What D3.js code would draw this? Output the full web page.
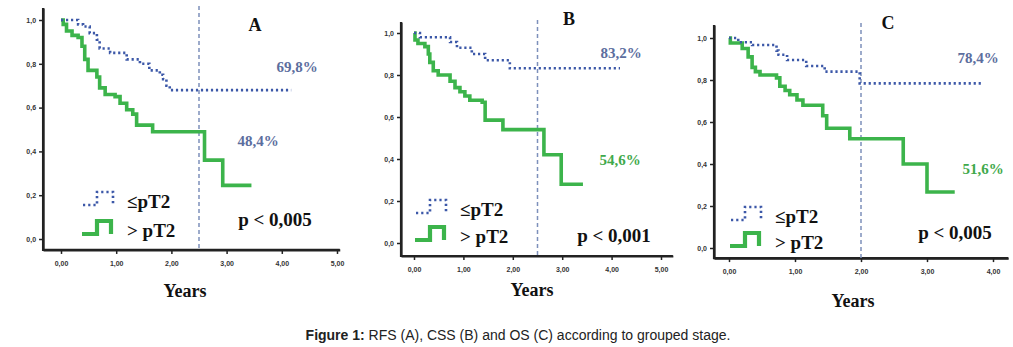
<!DOCTYPE html>
<html>
<head>
<meta charset="utf-8">
<script src="https://cdn.jsdelivr.net/npm/d3@7"></script>
<style>
    body { margin: 0; background: #fff; }
    svg { display: block; }
</style>
</head>
<body>
<svg id="figure" width="1013" height="347"></svg>
<script>
// Kaplan-Meier steps: [years, survival from that time on]
const rfs_low = [[0, 1], [0.31, 0.98], [0.4, 0.97], [0.52, 0.94], [0.65, 0.91], [0.7, 0.87], [0.89, 0.85],
    [1.19, 0.82], [1.43, 0.80], [1.6, 0.77], [1.79, 0.75], [1.85, 0.73], [1.91, 0.70], [1.97, 0.68], [4.17, 0.68]];
const rfs_high = [[0, 1], [0.04, 0.98], [0.1, 0.95], [0.2, 0.93], [0.31, 0.92], [0.38, 0.88], [0.43, 0.82],
    [0.49, 0.77], [0.65, 0.74], [0.7, 0.69], [0.8, 0.66], [0.98, 0.65], [1.07, 0.62], [1.19, 0.59], [1.3, 0.57],
    [1.37, 0.52], [1.66, 0.49], [2.6, 0.36], [2.93, 0.245], [3.45, 0.245]];

const css_low = [[0, 1], [0.12, 0.98], [0.73, 0.957], [0.87, 0.93], [1.17, 0.90], [1.44, 0.87], [1.94, 0.832], [4.17, 0.832]];
const css_high = [[0, 1], [0.02, 0.967], [0.08, 0.95], [0.22, 0.935], [0.29, 0.90], [0.32, 0.86], [0.39, 0.82],
    [0.49, 0.80], [0.73, 0.77], [0.83, 0.74], [0.93, 0.72], [1.03, 0.70], [1.13, 0.68], [1.38, 0.67], [1.44, 0.585],
    [1.8, 0.54], [2.63, 0.42], [2.98, 0.28], [3.42, 0.28]];

const os_low = [[0, 1], [0.14, 0.98], [0.35, 0.967], [0.72, 0.94], [0.75, 0.92], [0.88, 0.895], [1.17, 0.867],
    [1.45, 0.84], [1.98, 0.784], [3.83, 0.784]];
const os_high = [[0, 1], [0.02, 0.976], [0.2, 0.95], [0.29, 0.91], [0.35, 0.86], [0.4, 0.84], [0.47, 0.824],
    [0.72, 0.81], [0.77, 0.77], [0.85, 0.75], [0.92, 0.73], [1.03, 0.705], [1.12, 0.68], [1.42, 0.63], [1.48, 0.57],
    [1.83, 0.52], [2.64, 0.40], [3.0, 0.267], [3.42, 0.267]];

const panel_letters = ["A", "B", "C"];
const low_labels = ["69,8%", "83,2%", "78,4%"];
const high_labels = ["48,4%", "54,6%", "51,6%"];
const p_labels = ["p < 0,005", "p < 0,001", "p < 0,005"];
const cut_years = [2.5, 2.5, 2.0];
const x_ticks = [[0, 1, 2, 3, 4, 5], [0, 1, 2, 3, 4, 5], [0, 1, 2, 3, 4]];
const y_ticks = [0, 0.2, 0.4, 0.6, 0.8, 1.0];
const legend_labels = ["\u2264pT2", "> pT2"];

const blue = "#3c58a8", green = "#3cb44b";
const blue_text = "#5c6e9e", green_text = "#3fa94b";
const axis_color = "#222";
const serif = "'Liberation Serif', 'DejaVu Serif', serif";

// Pixel layout of each panel (axes corners and where the texts sit)
const panels = [
    { x0: 61, x1: 337, y0: 239, y1: 20, xd: [-0.325, 5.05], yd: [-0.05, 1.055],
      letter: [255, 31], low: [297, 72], high: [258, 146], low_color: blue_text, high_color: blue_text,
      p: [275, 226], legend: [127, 208, 237], years: [185, 297] },
    { x0: 414, x1: 661, y0: 243, y1: 33, xd: [-0.263, 5.24], yd: [-0.062, 1.052],
      letter: [569, 25], low: [621, 58], high: [620, 165], low_color: blue_text, high_color: green_text,
      p: [614, 242], legend: [460, 216, 243], years: [532, 296] },
    { x0: 729, x1: 993, y0: 248, y1: 38, xd: [-0.227, 4.23], yd: [-0.048, 1.062],
      letter: [888, 29], low: [978, 63], high: [983, 174], low_color: blue_text, high_color: green_text,
      p: [955, 239], legend: [775, 223, 249], years: [853, 307] }
];
const series = [[rfs_low, rfs_high], [css_low, css_high], [os_low, os_high]];

const svg = d3.select("#figure");
const comma = f => (v => f(v).replace(".", ","));

// Build the scales of every panel first
const scales = panels.map(function (p, i) {
    const n = x_ticks[i].length - 1;
    const x_unit = (p.x1 - p.x0) / n;
    const y_unit = p.y0 - p.y1;
    return {
        x: d3.scaleLinear().domain(p.xd).range([p.x0 + p.xd[0] * x_unit, p.x0 + p.xd[1] * x_unit]),
        y: d3.scaleLinear().domain(p.yd).range([p.y0 - p.yd[0] * y_unit, p.y0 - p.yd[1] * y_unit])
    };
});

// Axis lines straight on the svg, first layer
const axis_layer = svg.append("g").attr("class", "axis-lines");
panels.forEach(function (p, i) {
    const s = scales[i];
    axis_layer.append("polyline")
        .attr("points", [
            [s.x(p.xd[0]), s.y(p.yd[1])],
            [s.x(p.xd[0]), s.y(p.yd[0])],
            [s.x(p.xd[1]), s.y(p.yd[0])]
        ].map(d => d.join(",")).join(" "))
        .attr("fill", "none")
        .attr("stroke", axis_color)
        .attr("stroke-width", 2.2);
});

panels.forEach(function (p, i) {
    const x_scale = scales[i].x, y_scale = scales[i].y;
    const g = svg.append("g");
    const axis_y = y_scale(p.yd[0]);
    const axis_x = x_scale(p.xd[0]);
    const axis_top = y_scale(p.yd[1]);

    // Ticks and tick labels
    const xa = g.append("g")
        .attr("transform", `translate(0, ${axis_y})`)
        .call(d3.axisBottom(x_scale).tickValues(x_ticks[i]).tickSize(4).tickSizeOuter(0)
            .tickFormat(comma(d3.format(".2f"))));
    const ya = g.append("g")
        .attr("transform", `translate(${axis_x}, 0)`)
        .call(d3.axisLeft(y_scale).tickValues(y_ticks).tickSize(4).tickSizeOuter(0)
            .tickFormat(comma(d3.format(".1f"))));
    [xa, ya].forEach(a => {
        a.select(".domain").attr("stroke", axis_color).attr("stroke-width", 2.2);
        a.selectAll(".tick line").attr("stroke", axis_color).attr("stroke-width", 1.5);
        a.selectAll(".tick text")
            .attr("font-family", "'Liberation Sans', Arial, sans-serif")
            .attr("font-size", 7).attr("font-weight", "bold").attr("fill", "#333");
    });
    xa.selectAll(".tick text").attr("dy", "1.3em");

    // Cut-off dashed line
    g.append("line")
        .attr("x1", x_scale(cut_years[i])).attr("x2", x_scale(cut_years[i]))
        .attr("y1", axis_top - 2).attr("y2", axis_y)
        .attr("stroke", "#7d90bb").attr("stroke-width", 1.5).attr("stroke-dasharray", "4,3");

    // Survival curves
    const line = d3.line()
        .x(d => x_scale(d[0]))
        .y(d => y_scale(d[1]))
        .curve(d3.curveStepAfter);
    g.append("path").datum(series[i][1])
        .attr("d", line).attr("fill", "none")
        .attr("stroke", green).attr("stroke-width", 3.6);
    g.append("path").datum(series[i][0])
        .attr("d", line).attr("fill", "none")
        .attr("stroke", blue).attr("stroke-width", 2.6).attr("stroke-dasharray", "2.2,2.8");

    // Texts
    const txt = (pos, s, size, color) => g.append("text")
        .attr("x", pos[0]).attr("y", pos[1]).attr("text-anchor", "middle")
        .style("font-family", serif).style("font-weight", "bold").style("font-size", size + "px")
        .attr("fill", color).text(s);
    txt(p.letter, panel_letters[i], 18, "#111");
    txt(p.low, low_labels[i], 15, p.low_color);
    txt(p.high, high_labels[i], 15, p.high_color);
    txt(p.p, p_labels[i], 19, "#111");
    txt(p.years, "Years", 18, "#111");

    // Legend: step-shaped icons and labels
    const lx = p.legend[0];
    [0, 1].forEach(function (k) {
        const base = p.legend[1 + k];
        const bottom = base - 3, top = base - 16;
        g.append("path")
            .attr("d", k === 0
                ? `M${lx - 44},${bottom} H${lx - 30} V${top} H${lx - 14} V${bottom}`
                : `M${lx - 45},${bottom} H${lx - 30} V${top} H${lx - 16} V${bottom}`)
            .attr("fill", "none")
            .attr("stroke", k === 0 ? blue : green)
            .attr("stroke-width", k === 0 ? 2.6 : 4.2)
            .attr("stroke-dasharray", k === 0 ? "2.2,3" : null);
        g.append("text")
            .attr("x", lx).attr("y", base)
            .style("font-family", serif).style("font-weight", "bold").style("font-size", "19px")
            .attr("fill", "#111").text(legend_labels[k]);
    });
});

// Caption
const caption = svg.append("text")
    .attr("x", 518).attr("y", 340).attr("text-anchor", "middle")
    .style("font-family", "'Liberation Sans', Arial, sans-serif").style("font-size", "14px")
    .attr("fill", "#222");
caption.append("tspan").style("font-weight", "bold").text("Figure 1:");
caption.append("tspan").text(" RFS (A), CSS (B) and OS (C) according to grouped stage.");
</script>
</body>
</html>
